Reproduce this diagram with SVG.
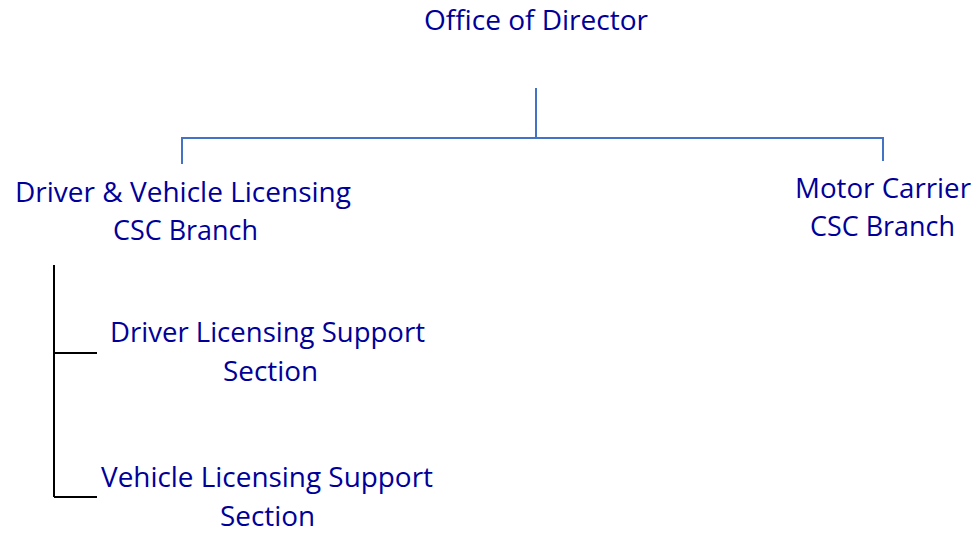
<svg xmlns="http://www.w3.org/2000/svg" width="977" height="534" viewBox="0 0 977 534">
<style>
text{font-family:"Open Sans","Noto Sans","Liberation Sans",sans-serif;font-size:27px;fill:#000099;text-anchor:middle}
.blue{stroke:#4472C4;stroke-width:2;fill:none}
.black{stroke:#000;stroke-width:2;fill:none}
</style>
<rect width="977" height="534" fill="#fff"/>
<g id="connectors">
<path class="blue" d="M536,88V138M182,164V138H883V161"/>
<path class="black" d="M54,265V497M54,353H97M54,497H97"/>
</g>
<g id="director"><text x="536" y="30" textLength="224" lengthAdjust="spacingAndGlyphs">Office of Director</text></g>
<g id="dvl"><text x="183" y="202" textLength="336" lengthAdjust="spacingAndGlyphs">Driver &amp; Vehicle Licensing</text><text x="185.5" y="240" textLength="145" lengthAdjust="spacingAndGlyphs">CSC Branch</text></g>
<g id="mc"><text x="883" y="198" textLength="176" lengthAdjust="spacingAndGlyphs">Motor Carrier</text><text x="882.5" y="236" textLength="145" lengthAdjust="spacingAndGlyphs">CSC Branch</text></g>
<g id="dls"><text x="267.5" y="342" textLength="315" lengthAdjust="spacingAndGlyphs">Driver Licensing Support</text><text x="270.5" y="381" textLength="95" lengthAdjust="spacingAndGlyphs">Section</text></g>
<g id="vls"><text x="267" y="487" textLength="332" lengthAdjust="spacingAndGlyphs">Vehicle Licensing Support</text><text x="267.5" y="526" textLength="95" lengthAdjust="spacingAndGlyphs">Section</text></g>
</svg>
